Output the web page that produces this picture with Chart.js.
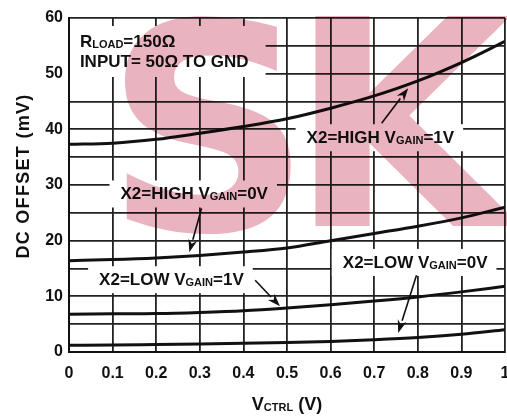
<!DOCTYPE html>
<html>
<head>
<meta charset="utf-8">
<script src="https://cdn.jsdelivr.net/npm/chart.js@4.4.1/dist/chart.umd.min.js"></script>
<style>
  html, body { margin: 0; padding: 0; background: #fff; }
  #wrap { position: relative; width: 507px; height: 419px; }
</style>
</head>
<body>
<div id="wrap"><canvas id="c" width="507" height="419"></canvas></div>
<script>
// ---- data ----
const vctrl = [0, 0.1, 0.2, 0.3, 0.4, 0.5, 0.6, 0.7, 0.8, 0.9, 1.0];
const highGain1V = [37.3, 37.5, 38.2, 39.3, 40.5, 41.9, 43.8, 46.0, 48.7, 52.0, 55.8];
const highGain0V = [16.4, 16.6, 16.9, 17.35, 17.95, 18.7, 20.0, 21.3, 22.6, 24.1, 26.0];
const lowGain1V  = [6.8, 6.85, 6.9, 7.1, 7.4, 7.9, 8.5, 9.15, 9.9, 10.8, 11.8];
const lowGain0V  = [1.2, 1.25, 1.35, 1.45, 1.55, 1.7, 1.9, 2.2, 2.6, 3.2, 4.0];
const xTickValues = [0, 0.1, 0.2, 0.3, 0.4, 0.5, 0.6, 0.7, 0.8, 0.9, 1];
const yTickLabels = [0, 10, 20, 30, 40, 50, 60];

// curve labels: [main, subscript, tail]
const curveLabelText = [
  ['X2=HIGH V', 'GAIN', '=1V'],
  ['X2=HIGH V', 'GAIN', '=0V'],
  ['X2=LOW V', 'GAIN', '=1V'],
  ['X2=LOW V', 'GAIN', '=0V']
];
const conditionText = [
  ['R', 'LOAD', '=150Ω'],
  ['INPUT= 50Ω TO GND', '', '']
];

// annotation placement (data units)
const curveLabelPos = [[0.545, 37.5], [0.118, 27.4], [0.069, 12.0], [0.628, 15.1]];
const conditionPos = [[0.025, 54.8], [0.025, 51.2]];
const arrowFrom = [[0.717, 41.1], [0.304, 25.8], [0.427, 12.9], [0.797, 13.8]];
const arrowTo   = [[0.778, 47.4], [0.276, 17.9], [0.484, 8.2], [0.755, 3.4]];

const FONT = '"Liberation Sans", Arial, Helvetica, sans-serif';
const mkPts = arr => vctrl.map((x, i) => ({ x: x, y: arr[i] }));

function drawRich(ctx, parts, x, y, size, measureOnly) {
  const subSize = Math.round(size * 0.62);
  let cx = x;
  ctx.font = 'bold ' + size + 'px ' + FONT;
  const w0 = ctx.measureText(parts[0]).width;
  if (!measureOnly) ctx.fillText(parts[0], cx, y);
  cx += w0;
  if (parts[1]) {
    ctx.font = 'bold ' + subSize + 'px ' + FONT;
    const w1 = ctx.measureText(parts[1]).width;
    if (!measureOnly) ctx.fillText(parts[1], cx, y + 1);
    cx += w1;
  }
  if (parts[2]) {
    ctx.font = 'bold ' + size + 'px ' + FONT;
    const w2 = ctx.measureText(parts[2]).width;
    if (!measureOnly) ctx.fillText(parts[2], cx, y);
    cx += w2;
  }
  return cx - x;
}

const annotPlugin = {
  id: 'annot',
  beforeDatasetsDraw(chart) {
    const ctx = chart.ctx, xs = chart.scales.x, ys = chart.scales.y;
    const ca = chart.chartArea;
    ctx.save();
    ctx.fillStyle = '#fff';
    ctx.textBaseline = 'alphabetic';
    let right = 0;
    conditionText.forEach((t, i) => {
      const px = xs.getPixelForValue(conditionPos[i][0]);
      const w = drawRich(ctx, t, px, 0, 17, true);
      right = Math.max(right, px + w);
    });
    const topY = ys.getPixelForValue(conditionPos[0][1]) - 13 - 8;
    const botY = ys.getPixelForValue(conditionPos[1][1]) + 10;
    ctx.fillRect(ca.left + 1, topY, right + 17 - ca.left - 1, botY - topY);
    curveLabelText.forEach((t, i) => {
      const px = xs.getPixelForValue(curveLabelPos[i][0]);
      const py = ys.getPixelForValue(curveLabelPos[i][1]);
      const w = drawRich(ctx, t, px, py, 17, true);
      ctx.fillRect(px - 11, py - 13 - 6, w + 20, 13 + 6 + 8);
    });
    ctx.restore();
  },
  afterDatasetsDraw(chart) {
    const ctx = chart.ctx, xs = chart.scales.x, ys = chart.scales.y;
    ctx.save();
    ctx.fillStyle = '#111';
    ctx.textBaseline = 'alphabetic';
    conditionText.forEach((t, i) => {
      drawRich(ctx, t, xs.getPixelForValue(conditionPos[i][0]), ys.getPixelForValue(conditionPos[i][1]), 17, false);
    });
    curveLabelText.forEach((t, i) => {
      drawRich(ctx, t, xs.getPixelForValue(curveLabelPos[i][0]), ys.getPixelForValue(curveLabelPos[i][1]), 17, false);
    });
    ctx.strokeStyle = '#111';
    ctx.lineWidth = 1.6;
    arrowFrom.forEach((f, i) => {
      const x0 = xs.getPixelForValue(f[0]), y0 = ys.getPixelForValue(f[1]);
      const x1 = xs.getPixelForValue(arrowTo[i][0]), y1 = ys.getPixelForValue(arrowTo[i][1]);
      const ang = Math.atan2(y1 - y0, x1 - x0);
      const L = 13, W = 4.5;
      const bx = x1 - L * Math.cos(ang), by = y1 - L * Math.sin(ang);
      ctx.beginPath(); ctx.moveTo(x0, y0); ctx.lineTo(bx, by); ctx.stroke();
      ctx.beginPath();
      ctx.moveTo(x1, y1);
      ctx.lineTo(bx + W * Math.sin(ang), by - W * Math.cos(ang));
      ctx.lineTo(x1 - (L - 4) * Math.cos(ang), y1 - (L - 4) * Math.sin(ang));
      ctx.lineTo(bx - W * Math.sin(ang), by + W * Math.cos(ang));
      ctx.closePath();
      ctx.fillStyle = '#111';
      ctx.fill();
    });
    ctx.restore();
  },
  afterDraw(chart) {
    const ctx = chart.ctx;
    const ca = chart.chartArea;
    ctx.save();
    ctx.fillStyle = '#111';
    ctx.translate(29, (ca.top + ca.bottom) / 2 - 9);
    ctx.rotate(-Math.PI / 2);
    ctx.textAlign = 'center';
    ctx.textBaseline = 'alphabetic';
    ctx.font = 'bold 18px ' + FONT;
    try { ctx.letterSpacing = '1.3px'; } catch (e) {}
    ctx.fillText('DC OFFSET (mV)', 0, 0);
    ctx.restore();
    ctx.save();
    ctx.fillStyle = '#111';
    ctx.textBaseline = 'alphabetic';
    const parts = ['V', 'CTRL', ' (V)'];
    const w = drawRich(ctx, parts, 0, 0, 18, true);
    drawRich(ctx, parts, (ca.left + ca.right) / 2 - w / 2, 410, 18, false);
    ctx.restore();
    // watermark (multiplied over everything)
    ctx.save();
    ctx.globalCompositeOperation = 'multiply';
    ctx.fillStyle = '#e9b3bf';
    ctx.textBaseline = 'alphabetic';
    ctx.font = 'bold 288px "DejaVu Sans", sans-serif';
    ctx.textAlign = 'center';
    ctx.fillText('S', 208, 230);
    ctx.textAlign = 'left';
    ctx.fillText('K', 289, 226);
    ctx.restore();
  }
};

const lineDs = (label, arr) => ({
  label: label,
  data: mkPts(arr),
  borderColor: '#111',
  borderWidth: 3,
  pointRadius: 0,
  fill: false,
  cubicInterpolationMode: 'monotone'
});

new Chart(document.getElementById('c'), {
  type: 'line',
  data: {
    datasets: [
      lineDs('X2=HIGH VGAIN=1V', highGain1V),
      lineDs('X2=HIGH VGAIN=0V', highGain0V),
      lineDs('X2=LOW VGAIN=1V', lowGain1V),
      lineDs('X2=LOW VGAIN=0V', lowGain0V)
    ]
  },
  options: {
    responsive: false,
    animation: false,
    devicePixelRatio: 1,
    layout: { padding: { top: 18, right: 2, left: 0, bottom: 0 } },
    plugins: { legend: { display: false }, tooltip: { enabled: false } },
    scales: {
      x: {
        type: 'linear', min: 0, max: 1,
        afterBuildTicks: s => { s.ticks = xTickValues.map(v => ({ value: v })); },
        ticks: {
          color: '#111', padding: 12, maxRotation: 0, autoSkip: false,
          font: { family: FONT, size: 16, weight: 'bold' },
          callback: v => (v === 0 || v === 1) ? String(v) : v.toFixed(1)
        },
        grid: { color: '#222', lineWidth: 1.8, drawTicks: false },
        border: { color: '#111', width: 2 },
        afterFit: s => { s.height = 67; s.paddingLeft = 0; s.paddingRight = 0; }
      },
      y: {
        type: 'linear', min: 0, max: 60,
        ticks: {
          stepSize: 5, color: '#111', padding: 6,
          font: { family: FONT, size: 16, weight: 'bold' },
          callback: v => yTickLabels.includes(v) ? String(v) : ''
        },
        grid: { color: '#222', lineWidth: 1.8, drawTicks: false },
        border: { color: '#111', width: 2 },
        afterFit: s => { s.width = 69; s.paddingTop = 0; s.paddingBottom = 0; }
      }
    }
  },
  plugins: [annotPlugin]
});
</script>
</body>
</html>
